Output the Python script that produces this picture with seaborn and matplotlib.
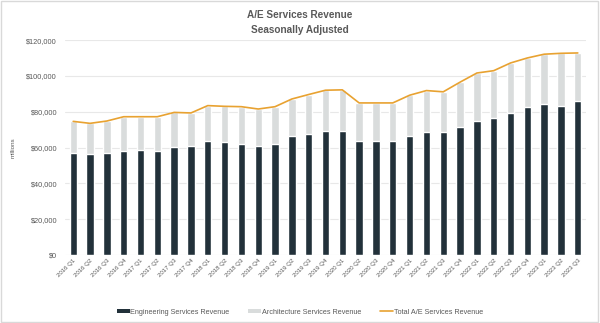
import numpy as np
import pandas as pd
import matplotlib
matplotlib.use("Agg")
import matplotlib.pyplot as plt
import seaborn as sns
from matplotlib.patches import Patch, Rectangle
from matplotlib.lines import Line2D
from matplotlib.ticker import FuncFormatter

quarters = [f"{y} Q{q}" for y in range(2016, 2024) for q in range(1, 5)][:31]
engineering = [56800, 56400, 57200, 58300, 58700, 57800, 60500, 60600, 63700, 63200,
               61900, 60900, 61900, 66200, 67700, 69400, 69200, 63900, 63400, 63700,
               66600, 68600, 68400, 71600, 74600, 76500, 79500, 82700, 84200, 83100, 85900]
total = [74600, 73500, 74800, 77200, 77200, 77200, 79600, 79300, 83400, 83000,
         82800, 81500, 82800, 87100, 89600, 92000, 92200, 84900, 84900, 84900,
         89200, 91800, 91100, 96500, 101600, 102900, 107200, 110000, 112100, 112600, 112800]
yticks = [0, 20000, 40000, 60000, 80000, 100000, 120000]

c_eng = "#22313a"
c_arch = "#d9dcdc"
c_line = "#e8a231"
c_text = "#595959"

df = pd.DataFrame({"quarter": quarters, "eng": engineering, "total": total})

sns.set_theme(style="white")
plt.rcParams["font.family"] = ["Liberation Sans", "DejaVu Sans"]

fig = plt.figure(figsize=(6, 3.23), dpi=100)
ax = fig.add_axes([0.108, 0.2105, 0.869, 0.6655])

sns.barplot(data=df, x="quarter", y="total", color=c_arch, width=0.44,
            saturation=1, ax=ax, zorder=2)
sns.barplot(data=df, x="quarter", y="eng", color=c_eng, width=0.44,
            saturation=1, ax=ax, zorder=3)
sns.pointplot(data=df, x="quarter", y="total", color=c_line, marker="",
              linestyle="-", linewidth=1.2, ax=ax, zorder=4)

ax.set_ylim(0, 120000)
ax.set_xlim(-0.5, len(quarters) - 0.5)
ax.set_yticks(yticks)
ax.yaxis.set_major_formatter(FuncFormatter(lambda v, p: f"${v:,.0f}"))
ax.grid(axis="y", color="#e8e8e8", linewidth=0.8, zorder=0)
ax.set_axisbelow(True)
for s in ax.spines.values():
    s.set_visible(False)
ax.tick_params(axis="y", labelsize=5.3, labelcolor=c_text, length=0, pad=5.5)
ax.tick_params(axis="x", labelsize=4.4, labelcolor=c_text, length=0, pad=2)
plt.setp(ax.get_xticklabels(), rotation=45, ha="right", rotation_mode="anchor")
ax.set_xlabel("")
ax.set_ylabel("millions", fontsize=4.5, color=c_text, labelpad=8)

fig.text(0.5, 0.955, "A/E Services Revenue", ha="center", va="center",
         fontsize=7.2, fontweight="bold", color=c_text)
fig.text(0.5, 0.908, "Seasonally Adjusted", ha="center", va="center",
         fontsize=7.2, fontweight="bold", color=c_text)

handles = [Patch(facecolor=c_eng, edgecolor="none"),
           Patch(facecolor=c_arch, edgecolor="none"),
           Line2D([0], [0], color=c_line, linewidth=1.2)]
labels = ["Engineering Services Revenue", "Architecture Services Revenue",
          "Total A/E Services Revenue"]
leg = fig.legend(handles, labels, loc="center", bbox_to_anchor=(0.5, 0.034),
                 ncol=3, frameon=False, fontsize=5.2, handlelength=1.8,
                 handleheight=0.55, handletextpad=0.1, columnspacing=2.6)
for t in leg.get_texts():
    t.set_color(c_text)

fig.patches.append(Rectangle((0.002, 0.003), 0.995, 0.994, transform=fig.transFigure,
                             fill=False, edgecolor="#d9d9d9", linewidth=1))

fig.savefig("out.png", dpi=100)
